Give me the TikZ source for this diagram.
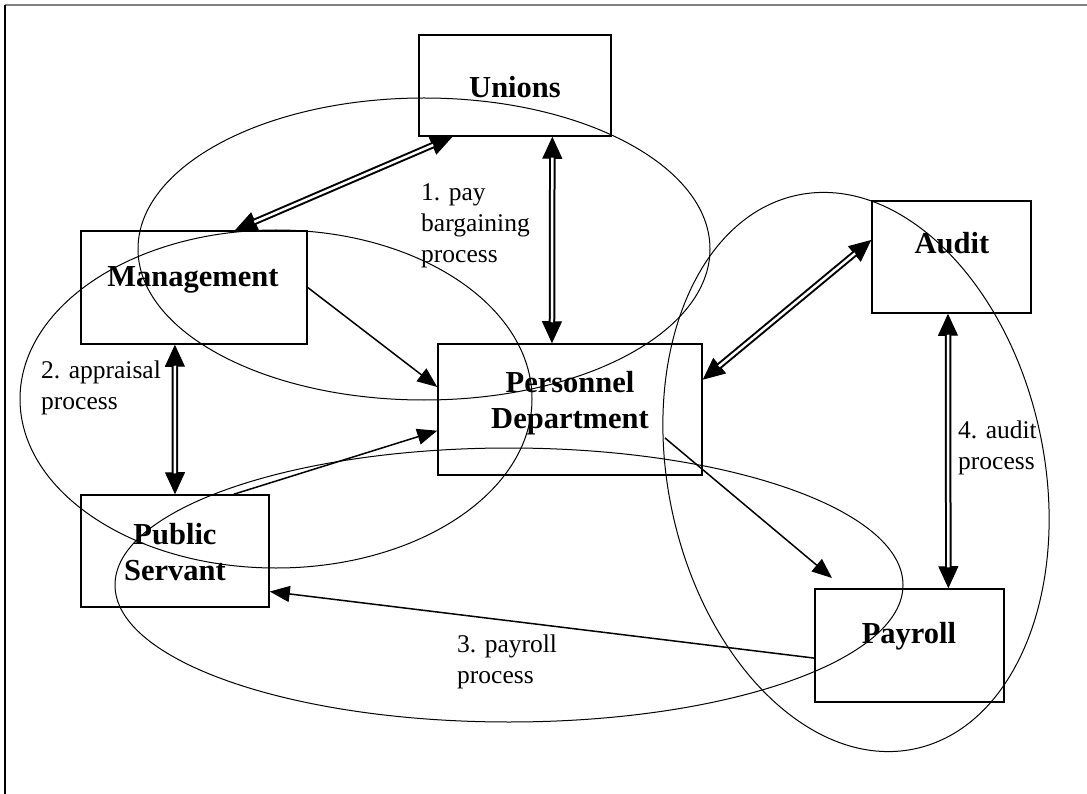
\documentclass[tikz,border=0pt]{standalone}
\usepackage{fontspec}
\setmainfont{Liberation Serif}
\usetikzlibrary{arrows.meta,calc}
\begin{document}
\begin{tikzpicture}[x=1pt,y=-1pt,
  box/.style={draw, line width=1.5pt, inner sep=0pt},
  boxlabel/.style={inner sep=0pt, font=\fontsize{30.5}{35.5}\selectfont\bfseries, align=center},
  proclabel/.style={inner sep=0pt, font=\fontsize{25.5}{31}\selectfont, align=left, anchor=north west},
  loop/.style={line width=1pt},
  sarrow/.style={line width=1.5pt, -{Triangle[length=20pt,width=16pt]}},
  dbltip/.style={line width=1pt, {Triangle[length=22pt,width=20pt]}-{Triangle[length=22pt,width=20pt]}},
  dblshaft/.style={line width=2pt, double, double distance=2.5pt, shorten <=21pt, shorten >=21pt}]
\useasboundingbox (0,0) rectangle (1087,794);

% page frame
\draw[line width=2pt, gray] (5,5) -- (1087,5);
\draw[line width=2pt] (5,5) -- (5,794);

% process loops
\draw[loop] (424,249) ellipse [x radius=286pt, y radius=151pt];
\draw[loop] (276,399) ellipse [x radius=256pt, y radius=169pt];
\draw[loop] (509,585) ellipse [x radius=394pt, y radius=137pt];
\draw[loop, rotate around={12:(856,472)}] (856,472) ellipse [x radius=188pt, y radius=283pt];

% boxes
\node[box, minimum width=192pt, minimum height=101pt] (unions) at (515,85.5) {};
\node[box, minimum width=226pt, minimum height=113pt] (mgmt) at (194,287.5) {};
\node[box, minimum width=264pt, minimum height=131pt] (pers) at (570,409.5) {};
\node[box, minimum width=159pt, minimum height=112pt] (audit) at (951.5,257) {};
\node[box, minimum width=188pt, minimum height=112pt] (pserv) at (175,551) {};
\node[box, minimum width=189pt, minimum height=113pt] (payroll) at (909.5,645.5) {};

% box texts
\node[boxlabel, anchor=base] (unionsT) at (515,98) {Unions};
\node[boxlabel, anchor=base] (mgmtT) at (193,287) {Management};
\node[boxlabel] (persT) at (570,403) {Personnel\\Department};
\node[boxlabel] (pservT) at (175,552) {Public\\Servant};
\node[boxlabel, anchor=base] (auditT) at (952,254) {Audit};
\node[boxlabel, anchor=base] (payrollT) at (909,643) {Payroll};

% process texts
\node[proclabel] (p1) at (421,183) {1. pay\\bargaining\\process};
\node[proclabel] (p2) at (41,361) {2. appraisal\\process};
\node[proclabel] (p3) at (457,635) {3. payroll\\process};
\node[proclabel] (p4) at (958,421) {4. audit\\process};

% connector end points
\coordinate (mU) at ($(mgmt.north west)!0.68!(mgmt.north east)$);
\coordinate (uM) at ($(unions.south west)!0.177!(unions.south east)$);
\coordinate (uP) at ($(unions.south west)!0.693!(unions.south east)$);
\coordinate (pU) at ($(pers.north west)!0.432!(pers.north east)$);
\coordinate (pM) at ($(pers.north west)!0.33!(pers.south west)$);
\coordinate (mS) at ($(mgmt.south west)!0.416!(mgmt.south east)$);
\coordinate (sP) at ($(pserv.north west)!0.81!(pserv.north east)$);
\coordinate (pS) at ($(pers.north west)!0.66!(pers.south west)$);
\coordinate (aP) at ($(audit.north west)!0.35!(audit.south west)$);
\coordinate (pA) at ($(pers.north east)!0.275!(pers.south east)$);
\coordinate (aY) at ($(audit.south west)!0.478!(audit.south east)$);
\coordinate (yA) at ($(payroll.north west)!0.704!(payroll.north east)$);
\coordinate (pY) at (665,438);
\coordinate (yP) at (832,578);
\coordinate (yS) at ($(payroll.north west)!0.61!(payroll.south west)$);
\coordinate (sY) at ($(pserv.north east)!0.857!(pserv.south east)$);

% two-way links
\draw[dbltip] (mU) -- (uM);   \draw[dblshaft] (mU) -- (uM);
\draw[dbltip] (uP) -- (pU);   \draw[dblshaft] (uP) -- (pU);
\draw[dbltip] (mS) -- (pserv.north); \draw[dblshaft] (mS) -- (pserv.north);
\draw[dbltip] (aP) -- (pA);   \draw[dblshaft] (aP) -- (pA);
\draw[dbltip] (aY) -- (yA);   \draw[dblshaft] (aY) -- (yA);

% one-way links
\draw[sarrow] (mgmt.east) -- (pM);
\draw[sarrow] (sP) -- (pS);
\draw[sarrow] (pY) -- (yP);
\draw[sarrow] (yS) -- (sY);
\end{tikzpicture}
\end{document}
